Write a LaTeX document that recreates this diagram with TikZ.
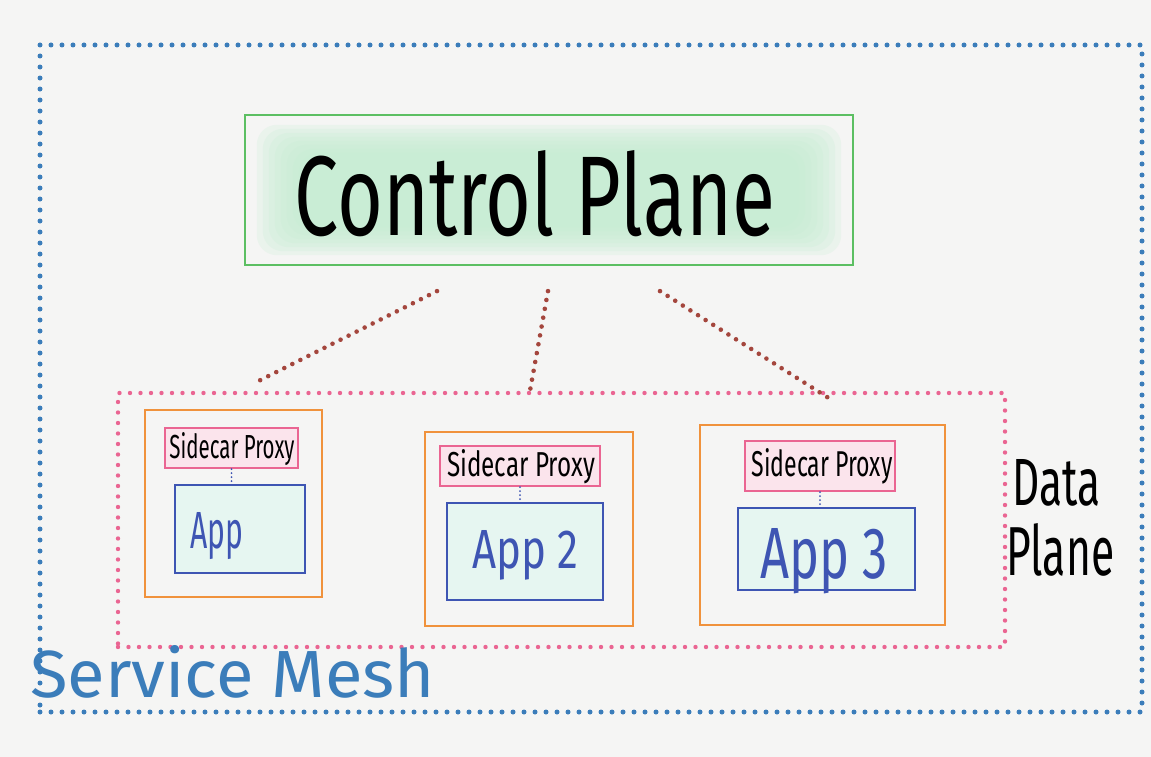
\documentclass[tikz,border=0pt]{standalone}
\usepackage{fontspec}
\setmainfont{Fira Sans}
\usepackage{graphicx}
\definecolor{bg}{HTML}{F5F5F4}
\definecolor{meshblue}{HTML}{3B7DBA}
\definecolor{cpgreen}{HTML}{5CBF62}
\definecolor{mint}{HTML}{C4EDD3}
\definecolor{appfill}{HTML}{E6F6F1}
\definecolor{dppink}{HTML}{EA6592}
\definecolor{scfill}{HTML}{FBE4EC}
\definecolor{podorange}{HTML}{F0923C}
\definecolor{appblue}{HTML}{3E55B3}
\definecolor{linkred}{HTML}{A4463D}
\begin{document}
\begin{tikzpicture}[x=1pt,y=-1pt,
  box/.style={draw, rectangle, inner sep=0pt},
  meshbox/.style={box, draw=meshblue, line width=5pt, line cap=round, dash pattern=on 0pt off 11pt},
  cpbox/.style={box, draw=cpgreen, line width=2.2pt},
  dpbox/.style={box, draw=dppink, line width=4.4pt, line cap=round, dash pattern=on 0pt off 10.5pt},
  podbox/.style={box, draw=podorange, line width=2.4pt},
  scbox/.style={box, draw=dppink, line width=2.2pt, fill=scfill},
  appbox/.style={box, draw=appblue, line width=2.4pt, fill=appfill},
  link/.style={draw=linkred, line width=4.6pt, line cap=round, dash pattern=on 0pt off 9pt},
  inner/.style={draw=appblue, line width=2pt, line cap=round, dash pattern=on 0pt off 4pt},
  lbl/.style={inner sep=0pt}
]
\fill[bg] (0,0) rectangle (1151,757);
\useasboundingbox (0,0) rectangle (1151,757);

\node[meshbox, minimum width=1102pt, minimum height=667pt] (mesh) at (591,378.5) {};
\node[box, draw=none, minimum width=608pt, minimum height=150pt] (cpg) at (549,190) {};
\foreach \i in {0,...,7}{
  \fill[mint, opacity=0.22, rounded corners=20pt]
    ([xshift={12pt+\i*6pt}, yshift={-(10pt+\i*4pt)}]cpg.north west) rectangle
    ([xshift={-(12pt+\i*6pt)}, yshift={10pt+\i*4pt}]cpg.south east);
}
\node[cpbox, minimum width=608pt, minimum height=150pt] (cp) at (549,190) {};
\node[lbl, anchor=base] (cpt) at (535,235) {\resizebox{480pt}{85pt}{Control Plane}};

\node[dpbox, minimum width=887pt, minimum height=254pt] (dp) at (561.5,520) {};

\node[podbox, minimum width=177pt, minimum height=187pt] (pod1) at (233.5,503.5) {};
\node[podbox, minimum width=208pt, minimum height=194pt] (pod2) at (529,529) {};
\node[podbox, minimum width=245pt, minimum height=200pt] (pod3) at (822.5,525) {};

\node[scbox, minimum width=133pt, minimum height=40pt] (sc1) at (231.5,448) {};
\node[scbox, minimum width=160pt, minimum height=40pt] (sc2) at (520,466) {};
\node[scbox, minimum width=150pt, minimum height=50pt] (sc3) at (820,466) {};
\node[lbl, anchor=base] at (232,458) {\resizebox{125pt}{26pt}{Sidecar Proxy}};
\node[lbl, anchor=base] at (521,476) {\resizebox{148pt}{27pt}{Sidecar Proxy}};
\node[lbl, anchor=base] at (822,476) {\resizebox{141pt}{28pt}{Sidecar Proxy}};

\node[appbox, minimum width=130pt, minimum height=88pt] (app1) at (240,529) {};
\node[appbox, minimum width=156pt, minimum height=97pt] (app2) at (525,551.5) {};
\node[appbox, minimum width=177pt, minimum height=82pt] (app3) at (826.5,549) {};
\node[lbl, anchor=base west, text=appblue] at (190,548) {\resizebox{53pt}{36pt}{App}};
\node[lbl, anchor=base west, text=appblue] at (472,568) {\resizebox{106pt}{38pt}{App 2}};
\node[lbl, anchor=base west, text=appblue] at (760,578) {\resizebox{128pt}{50pt}{App 3}};

\draw[inner] (sc1.south) -- (app1.north -| sc1.south);
\draw[inner] (sc2.south) -- (app2.north -| sc2.south);
\draw[inner] (sc3.south) -- (app3.north -| sc3.south);

\draw[link] ([xshift=-112pt,yshift=-25pt]cp.south) -- ([xshift=-306.5pt,yshift=8pt]dp.north);
\draw[link] ([xshift=-1pt,yshift=-25pt]cp.south) -- ([xshift=-31.5pt]dp.north);
\draw[link] ([xshift=111pt,yshift=-25pt]cp.south) -- ([xshift=271.5pt,yshift=-10pt]dp.north);

\node[lbl, anchor=base west] (dpt1) at (1012,505) {\resizebox{88pt}{46pt}{Data}};
\node[lbl, anchor=base west] (dpt2) at (1006,575) {\resizebox{108pt}{52pt}{Plane}};
\node[lbl, anchor=base west, text=meshblue] (mt) at (30,697) {\resizebox{405pt}{52pt}{Service Mesh}};
\end{tikzpicture}
\end{document}
